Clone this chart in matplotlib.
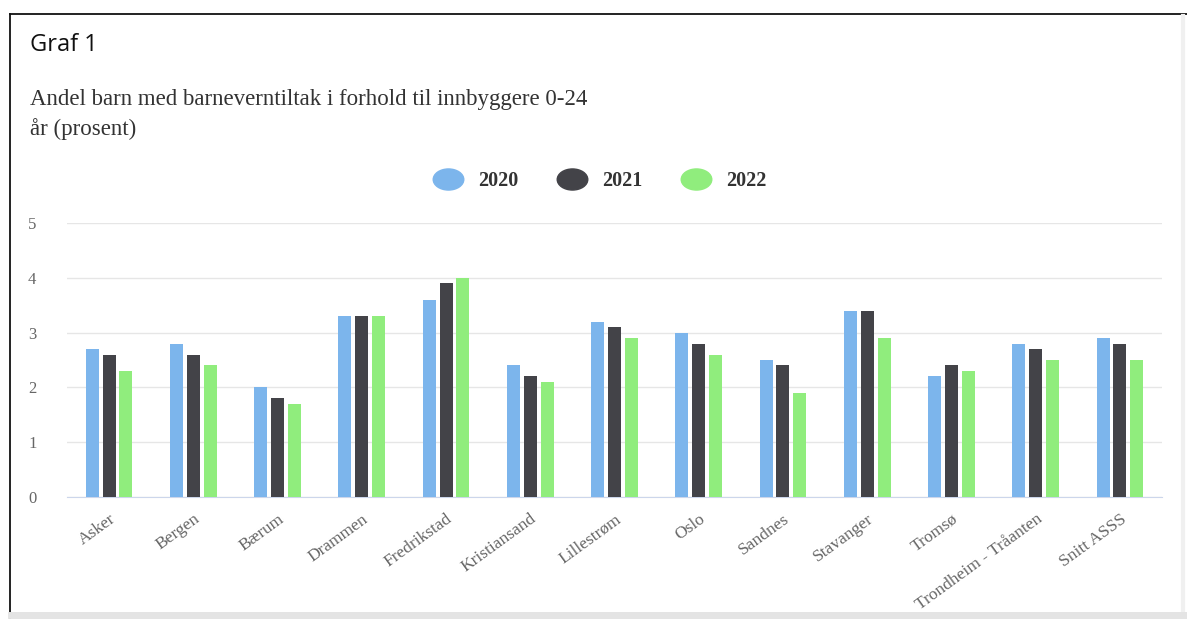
import numpy as np
import matplotlib.pyplot as plt
from matplotlib.lines import Line2D
from matplotlib.path import Path
from matplotlib.transforms import Affine2D

# Data
kommuner = ['Asker', 'Bergen', 'Bærum', 'Drammen', 'Fredrikstad', 'Kristiansand',
            'Lillestrøm', 'Oslo', 'Sandnes', 'Stavanger', 'Tromsø',
            'Trondheim - Tråanten', 'Snitt ASSS']
aar = ['2020', '2021', '2022']
v2020 = [2.7, 2.8, 2.0, 3.3, 3.6, 2.4, 3.2, 3.0, 2.5, 3.4, 2.2, 2.8, 2.9]
v2021 = [2.6, 2.6, 1.8, 3.3, 3.9, 2.2, 3.1, 2.8, 2.4, 3.4, 2.4, 2.7, 2.8]
v2022 = [2.3, 2.4, 1.7, 3.3, 4.0, 2.1, 2.9, 2.6, 1.9, 2.9, 2.3, 2.5, 2.5]
yticks = [0, 1, 2, 3, 4, 5]

colors = ['#7cb5ec', '#434348', '#90ed7d']
serif = 'Liberation Serif'

fig = plt.figure(figsize=(11.87, 6.19), dpi=100)

# outer frame (document box)
fig.add_artist(Line2D([10/1187, 1], [1 - 14/619, 1 - 14/619], color='#111111', lw=1.3))
fig.add_artist(Line2D([10/1187, 10/1187], [0, 1 - 14/619], color='#111111', lw=1.3))
fig.add_artist(Line2D([1183/1187, 1183/1187], [6/619, 1 - 16/619], color='#f0f0f0', lw=3))
fig.add_artist(Line2D([11/1187, 1], [4/619, 4/619], color='#e4e4e4', lw=5))

fig.text(30/1187, 1 - 45/619, 'Graf 1', fontsize=17, family='Open Sans',
         color='#111111', va='center')
fig.text(30/1187, 1 - 100/619, 'Andel barn med barneverntiltak i forhold til innbyggere 0-24',
         fontsize=16.5, family=serif, color='#333333', va='center')
fig.text(30/1187, 1 - 129/619, 'år (prosent)',
         fontsize=16.5, family=serif, color='#333333', va='center')

ax = fig.add_axes([67/1187, 1 - 497/619, (1162 - 67)/1187, (497 - 223)/619])
x = np.arange(len(kommuner))
w = 0.155
off = 0.2
for i, (vals, c) in enumerate(zip([v2020, v2021, v2022], colors)):
    ax.bar(x + (i - 1) * off, vals, width=w, color=c, zorder=3, label=aar[i])

ax.set_xlim(-0.5, len(kommuner) - 0.5)
ax.set_ylim(0, 5)
ax.set_yticks(yticks)
ax.set_yticklabels([str(t) for t in yticks], family=serif, fontsize=12, color='#666666')
ax.tick_params(axis='y', length=0, pad=22)
ax.grid(axis='y', color='#e6e6e6', lw=1, zorder=0)
for s in ['top', 'right', 'left']:
    ax.spines[s].set_visible(False)
ax.spines['bottom'].set_color('#ccd6eb')
ax.set_xticks(x)
ax.set_xticklabels(kommuner, rotation=36, ha='right', rotation_mode='anchor',
                   family=serif, fontsize=12.5, color='#666666')
ax.tick_params(axis='x', length=0, pad=10)

# wide ellipse legend symbols
ellipse = Path.unit_circle().transformed(Affine2D().scale(1.45, 1))
handles = [Line2D([], [], marker=ellipse, ls='', markersize=22, color=c) for c in colors]
leg = fig.legend(handles, aar, loc='center', bbox_to_anchor=(597/1187, 1 - 181/619),
                 ncol=3, frameon=False, columnspacing=1.65, handletextpad=0.5,
                 prop={'family': serif, 'size': 14.5, 'weight': 'bold'})
for t in leg.get_texts():
    t.set_color('#333333')

fig.savefig('out.png', dpi=100, facecolor='white')
